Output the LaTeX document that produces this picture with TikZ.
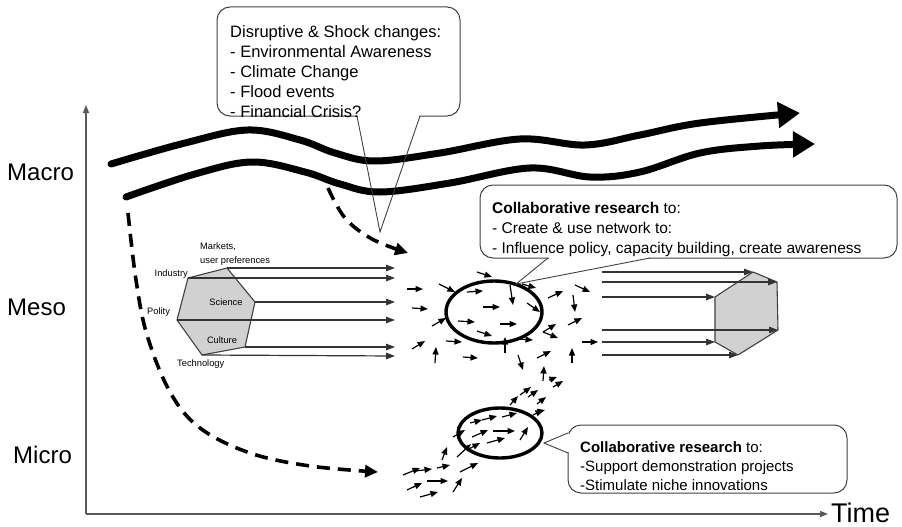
\documentclass[tikz,border=0pt]{standalone}
\usepackage{fontspec}
\setmainfont{Liberation Sans}
\usetikzlibrary{arrows.meta,shapes.geometric}
\begin{document}
\begin{tikzpicture}[x=1pt,y=-1pt,
  wave/.style={line width=7pt, line cap=round, -{Triangle[length=22pt,width=25pt]}},
  dashflow/.style={line width=3.6pt, dash pattern=on 13pt off 8pt, -{Triangle[length=13pt,width=12pt]}},
  axis/.style={line width=1.4pt, draw=black!65, -{Triangle[length=8pt,width=6pt]}},
  flow/.style={line width=1.2pt, draw=black!80, -{Triangle[length=9pt,width=6.5pt]}},
  jig/.style={line width=1.2pt, -{Triangle[length=7.5pt,width=6pt]}},
  hexa/.style={draw=black!75, fill=black!18, line width=1.1pt, line join=round},
  ring/.style={draw, ellipse, line width=3.4pt, inner sep=0pt},
  level/.style={font=\fontsize{24}{28}\selectfont, inner sep=0pt, anchor=base west},
  tag/.style={font=\fontsize{9.3}{10.5}\selectfont, inner sep=0pt},
  note/.style={align=left, inner sep=0pt, anchor=north west},
  bubble/.style={draw=black!75, line width=1pt, rounded corners=13pt},
]
\useasboundingbox (0,0) rectangle (902,527);

% axes
\coordinate (origin) at (86,514);
\coordinate (ytop) at (86,105);
\coordinate (xend) at (828,514);
\draw[axis] (origin) -- (ytop);
\draw[axis] (origin) -- (xend);

% level labels
\node[level] (macro) at (7,180) {Macro};
\node[level] (meso) at (7,315) {Meso};
\node[level] (micro) at (13,463) {Micro};
\node[font=\fontsize{27}{31}\selectfont, inner sep=0pt, anchor=base west] (time) at (831,522) {Time};

% landscape pressure waves
\draw[wave] plot[smooth, tension=0.6] coordinates {(111,164) (185,143) (248,130) (300,140) (335,153) (375,161) (440,153) (520,139) (585,145) (640,135) (700,123) (800,113)};
\draw[wave] plot[smooth, tension=0.6] coordinates {(126,197) (195,174) (252,162) (305,172) (340,184) (380,192) (450,183) (530,168) (590,177) (640,172) (700,153) (760,146) (815,144)};

% dashed influence paths
\draw[dashflow] plot[smooth, tension=0.6] coordinates {(128,213) (136,280) (147,335) (170,392) (200,428) (250,453) (310,466) (378,472)};
\draw[dashflow] plot[smooth, tension=0.6] coordinates {(328,188) (345,218) (372,239) (408,253)};

% regime hexagon (left)
\coordinate (h1) at (188,278);
\coordinate (h2) at (227,268);
\coordinate (h3) at (255,302);
\coordinate (h4) at (245,347);
\coordinate (h5) at (202,355);
\coordinate (h6) at (177,320);
\draw[hexa] (h1) -- (h2) -- (h3) -- (h4) -- (h5) -- (h6) -- cycle;
\coordinate (t1) at (395,268);
\coordinate (t2) at (395,278);
\coordinate (t3) at (395,302);
\coordinate (t4) at (395,320);
\coordinate (t5) at (395,347);
\coordinate (t6) at (395,356);
\draw[flow] (h2) -- (t1);
\draw[flow] (h1) -- (t2);
\draw[flow] (h3) -- (t3);
\draw[flow] (h6) -- (t4);
\draw[flow] (h4) -- (t5);
\draw[flow] (h5) -- (t6);

\node[tag, anchor=base west] (markets) at (200,249) {Markets,};
\node[tag, anchor=base west] (users) at (200,263) {user preferences};
\node[tag, anchor=base east] (industry) at (188,276) {Industry};
\node[tag] (science) at (226,302) {Science};
\node[tag, anchor=west] (polity) at (147,312) {Polity};
\node[tag] (culture) at (222,340) {Culture};
\node[tag, anchor=west] (technology) at (177,364) {Technology};

% regime hexagon (right)
\coordinate (r1) at (715,297);
\coordinate (r2) at (753,272);
\coordinate (r3) at (777,282);
\coordinate (r4) at (778,330);
\coordinate (r5) at (738,355);
\coordinate (r6) at (715,342);
\draw[hexa] (r1) -- (r2) -- (r3) -- (r4) -- (r5) -- (r6) -- cycle;
\coordinate (s1) at (602,272);
\coordinate (s2) at (602,282);
\coordinate (s3) at (602,297);
\coordinate (s4) at (602,330);
\coordinate (s5) at (602,342);
\coordinate (s6) at (602,355);
\draw[flow] (s1) -- (r2);
\draw[flow] (s2) -- (r3);
\draw[flow] (s3) -- (r1);
\draw[flow] (s4) -- (r4);
\draw[flow] (s5) -- (r6);
\draw[flow] (s6) -- (r5);

% niche and network rings
\node[ring, minimum width=96pt, minimum height=62pt] (netring) at (494,312) {};
\node[ring, minimum width=84pt, minimum height=50pt] (nichering) at (500,433) {};

% scattered actor arrows
\foreach \ax/\ay/\bx/\by in {
  477/272/492/277, 407/289/423/289, 439/284/455/292, 467/292/483/291,
  510/285/513/305, 522/284/536/288, 412/308/428/309, 483/307/500/307,
  527/303/540/312, 548/298/563/291, 573/295/575/312, 575/285/590/292,
  432/326/446/318, 458/321/475/322, 500/324/517/324, 477/331/492/336,
  543/332/556/324, 543/332/558/338, 568/325/582/318, 412/349/425/341,
  446/341/462/342, 505/353/505/337, 517/339/533/340, 582/342/598/342,
  435/363/436/347, 463/357/478/358, 518/355/523/370, 537/358/551/351,
  572/363/572/348,
  543/381/544/366, 549/380/557/377, 553/387/563/381, 520/395/531/387,
  528/397/538/390, 537/404/546/397, 510/405/518/396, 537/412/545/410,
  470/423/482/420, 482/420/497/416, 502/417/517/413, 533/415/543/410,
  472/437/488/430, 493/431/515/431, 520/440/528/427, 487/443/505/438,
  453/437/465/430, 442/460/447/447, 457/457/471/444, 467/450/480/443,
  460/472/478/463, 437/468/450/465, 403/475/420/468, 415/471/432/469,
  427/481/448/481, 407/490/422/483, 420/497/438/492, 453/492/462/478}
  \draw[jig] (\ax,\ay) -- (\bx,\by);

% callout: shocks
\draw[bubble] (217,7) rectangle (460,116);
\fill[white] (358,113) rectangle (419,119);
\coordinate (shockA) at (357,116);
\coordinate (shockB) at (420,116);
\coordinate (shockTip) at (380,232);
\draw[draw=black!75, line width=0.9pt] (shockA) -- (shockTip) -- (shockB);
\node[note, font=\fontsize{16.5}{20}\selectfont] (shock) at (230,25)
  {Disruptive \& Shock changes:\\- Environmental Awareness\\- Climate Change\\- Flood events\\- Financial Crisis?};

% callout: network research
\draw[bubble] (480,185) rectangle (897,258);
\fill[white] (549,255) rectangle (649,261);
\coordinate (netA) at (548,258);
\coordinate (netB) at (650,258);
\coordinate (netTip) at (516,284);
\draw[draw=black!75, line width=0.9pt] (netA) -- (netTip) -- (netB);
\node[note, font=\fontsize{15.5}{20}\selectfont] (netnote) at (492,202)
  {\textbf{Collaborative research} to:\\- Create \& use network to:\\- Influence policy, capacity building, create awareness};

% callout: niche research
\draw[bubble] (568,425) rectangle (847,493);
\fill[white] (565,434) rectangle (571,452);
\coordinate (nicheA) at (568,433);
\coordinate (nicheB) at (568,453);
\coordinate (nicheTip) at (544,443);
\draw[draw=black!75, line width=0.9pt] (nicheA) -- (nicheTip) -- (nicheB);
\node[note, font=\fontsize{15}{19}\selectfont] (nichenote) at (580,441)
  {\textbf{Collaborative research} to:\\-Support demonstration projects\\-Stimulate niche innovations};
\end{tikzpicture}
\end{document}
